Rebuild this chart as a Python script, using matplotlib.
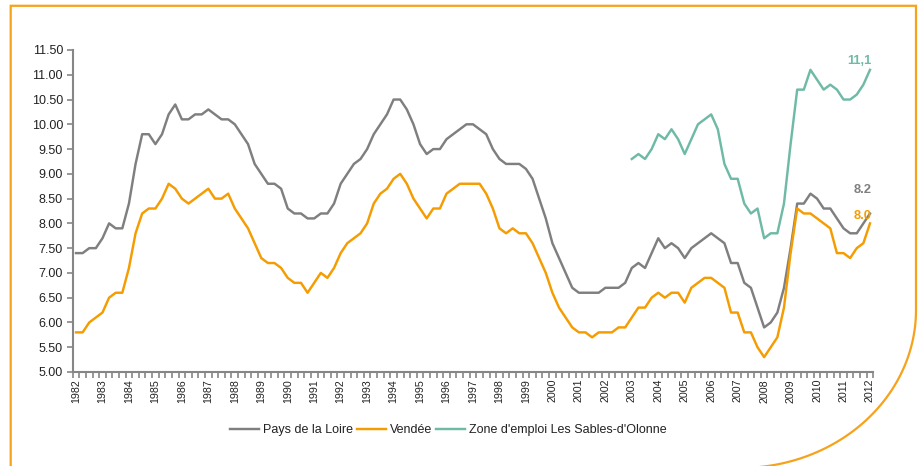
import numpy as np
import matplotlib
matplotlib.use("Agg")
import matplotlib.pyplot as plt
from matplotlib.path import Path
from matplotlib.patches import PathPatch
from matplotlib.transforms import IdentityTransform

# ---------------- data (quarterly, 1982Q1 .. 2012Q1) ----------------
years = list(range(1982, 2013))

pays_de_la_loire = [
    7.4, 7.4, 7.5, 7.5, 7.7, 8.0, 7.9, 7.9, 8.4, 9.2,
    9.8, 9.8, 9.6, 9.8, 10.2, 10.4, 10.1, 10.1, 10.2, 10.2,
    10.3, 10.2, 10.1, 10.1, 10.0, 9.8, 9.6, 9.2, 9.0, 8.8,
    8.8, 8.7, 8.3, 8.2, 8.2, 8.1, 8.1, 8.2, 8.2, 8.4,
    8.8, 9.0, 9.2, 9.3, 9.5, 9.8, 10.0, 10.2, 10.5, 10.5,
    10.3, 10.0, 9.6, 9.4, 9.5, 9.5, 9.7, 9.8, 9.9, 10.0,
    10.0, 9.9, 9.8, 9.5, 9.3, 9.2, 9.2, 9.2, 9.1, 8.9,
    8.5, 8.1, 7.6, 7.3, 7.0, 6.7, 6.6, 6.6, 6.6, 6.6,
    6.7, 6.7, 6.7, 6.8, 7.1, 7.2, 7.1, 7.4, 7.7, 7.5,
    7.6, 7.5, 7.3, 7.5, 7.6, 7.7, 7.8, 7.7, 7.6, 7.2,
    7.2, 6.8, 6.7, 6.3, 5.9, 6.0, 6.2, 6.7, 7.5, 8.4,
    8.4, 8.6, 8.5, 8.3, 8.3, 8.1, 7.9, 7.8, 7.8, 8.0,
    8.2,
]

vendee = [
    5.8, 5.8, 6.0, 6.1, 6.2, 6.5, 6.6, 6.6, 7.1, 7.8,
    8.2, 8.3, 8.3, 8.5, 8.8, 8.7, 8.5, 8.4, 8.5, 8.6,
    8.7, 8.5, 8.5, 8.6, 8.3, 8.1, 7.9, 7.6, 7.3, 7.2,
    7.2, 7.1, 6.9, 6.8, 6.8, 6.6, 6.8, 7.0, 6.9, 7.1,
    7.4, 7.6, 7.7, 7.8, 8.0, 8.4, 8.6, 8.7, 8.9, 9.0,
    8.8, 8.5, 8.3, 8.1, 8.3, 8.3, 8.6, 8.7, 8.8, 8.8,
    8.8, 8.8, 8.6, 8.3, 7.9, 7.8, 7.9, 7.8, 7.8, 7.6,
    7.3, 7.0, 6.6, 6.3, 6.1, 5.9, 5.8, 5.8, 5.7, 5.8,
    5.8, 5.8, 5.9, 5.9, 6.1, 6.3, 6.3, 6.5, 6.6, 6.5,
    6.6, 6.6, 6.4, 6.7, 6.8, 6.9, 6.9, 6.8, 6.7, 6.2,
    6.2, 5.8, 5.8, 5.5, 5.3, 5.5, 5.7, 6.3, 7.4, 8.3,
    8.2, 8.2, 8.1, 8.0, 7.9, 7.4, 7.4, 7.3, 7.5, 7.6,
    8.0,
]

nan = float("nan")
sables = [nan] * 84 + [
    9.3, 9.4, 9.3, 9.5, 9.8, 9.7, 9.9, 9.7, 9.4, 9.7,
    10.0, 10.1, 10.2, 9.9, 9.2, 8.9, 8.9, 8.4, 8.2, 8.3,
    7.7, 7.8, 7.8, 8.4, 9.6, 10.7, 10.7, 11.1, 10.9, 10.7,
    10.8, 10.7, 10.5, 10.5, 10.6, 10.8, 11.1,
]

series_names = ["Pays de la Loire", "Vendée", "Zone d'emploi Les Sables-d'Olonne"]
end_labels = ["8.2", "8.0", "11,1"]
yticks = [5.0, 5.5, 6.0, 6.5, 7.0, 7.5, 8.0, 8.5, 9.0, 9.5, 10.0, 10.5, 11.0, 11.5]

# ---------------- style ----------------
GRAY = "#7f7f7f"
ORANGE = "#f59c00"
TEAL = "#6fbaa6"
FRAME = "#f7a21b"
AXIS = "#868686"
TXT = "#222222"

plt.rcParams["font.family"] = ["Liberation Sans", "DejaVu Sans"]

W, H = 923, 466
fig = plt.figure(figsize=(W / 100, H / 100), dpi=100)
ax = fig.add_axes([72.7 / W, 1 - 372 / H, (873.3 - 72.7) / W, (372 - 50) / H])

n = len(pays_de_la_loire)
x = np.arange(n)
lw = 1.75
ax.plot(x, pays_de_la_loire, color=GRAY, lw=lw, label=series_names[0], solid_joinstyle="round")
ax.plot(x, vendee, color=ORANGE, lw=lw, label=series_names[1], solid_joinstyle="round")
ax.plot(x, sables, color=TEAL, lw=lw, label=series_names[2], solid_joinstyle="round")

ax.set_xlim(-0.5, n - 0.5)
ax.set_ylim(5.0, 11.5)

# y axis
ax.set_yticks(yticks)
ax.set_yticklabels([f"{v:.2f}" for v in yticks], fontsize=9, color=TXT)
ax.tick_params(axis="y", direction="out", length=4, width=1.2, color=AXIS, pad=3)

# x axis: labels at category centres each year, tick marks at quarter boundaries
ax.set_xticks(np.arange(0, n, 4))
ax.set_xticklabels([str(y) for y in years], rotation=90, fontsize=7.7, color=TXT)
ax.set_xticks(np.arange(-0.5, n, 1), minor=True)
ax.tick_params(axis="x", which="major", length=0, pad=5)
ax.tick_params(axis="x", which="minor", direction="out", length=4, width=1.2, color=AXIS)

for s in ["top", "right"]:
    ax.spines[s].set_visible(False)
for s in ["left", "bottom"]:
    ax.spines[s].set_color(AXIS)
    ax.spines[s].set_linewidth(1.5)

# end labels
last = n - 1
ax.annotate(end_labels[0], (last, pays_de_la_loire[-1]), xytext=(1, 17), textcoords="offset points",
            ha="right", va="center", fontsize=9.3, fontweight="bold", color=GRAY)
ax.annotate(end_labels[1], (last, vendee[-1]), xytext=(1, 5.5), textcoords="offset points",
            ha="right", va="center", fontsize=9.3, fontweight="bold", color=ORANGE)
ax.annotate(end_labels[2], (last, sables[-1]), xytext=(1, 6.5), textcoords="offset points",
            ha="right", va="center", fontsize=9.3, fontweight="bold", color=TEAL)

# legend
leg = fig.legend(loc="center", bbox_to_anchor=(448.5 / W, 1 - 430 / H), ncol=3, frameon=False,
                 fontsize=9, handlelength=2.3, handletextpad=0.3, columnspacing=0.35,
                 borderaxespad=0)
for t in leg.get_texts():
    t.set_color(TXT)

# decorative page frame (display pixels)
t = np.linspace(0, np.pi / 2, 60)
cx, cy, a, b = 740.0, 310.0, 177.0, 158.0
arc_x = cx + a * np.cos(t)
arc_y = cy + b * np.sin(t)
pts = [(10.7, 470), (10.7, 5.8), (916.0, 5.8), (916.0, cy)] + list(zip(cx + (916.0 - cx) / a * a * np.cos(t), arc_y))
verts = [(px, H - py) for px, py in pts]
frame = PathPatch(Path(verts), facecolor="none", edgecolor=FRAME, lw=1.6,
                  transform=IdentityTransform(), clip_on=False)
fig.patches.append(frame)

fig.savefig("out.png", dpi=100)
